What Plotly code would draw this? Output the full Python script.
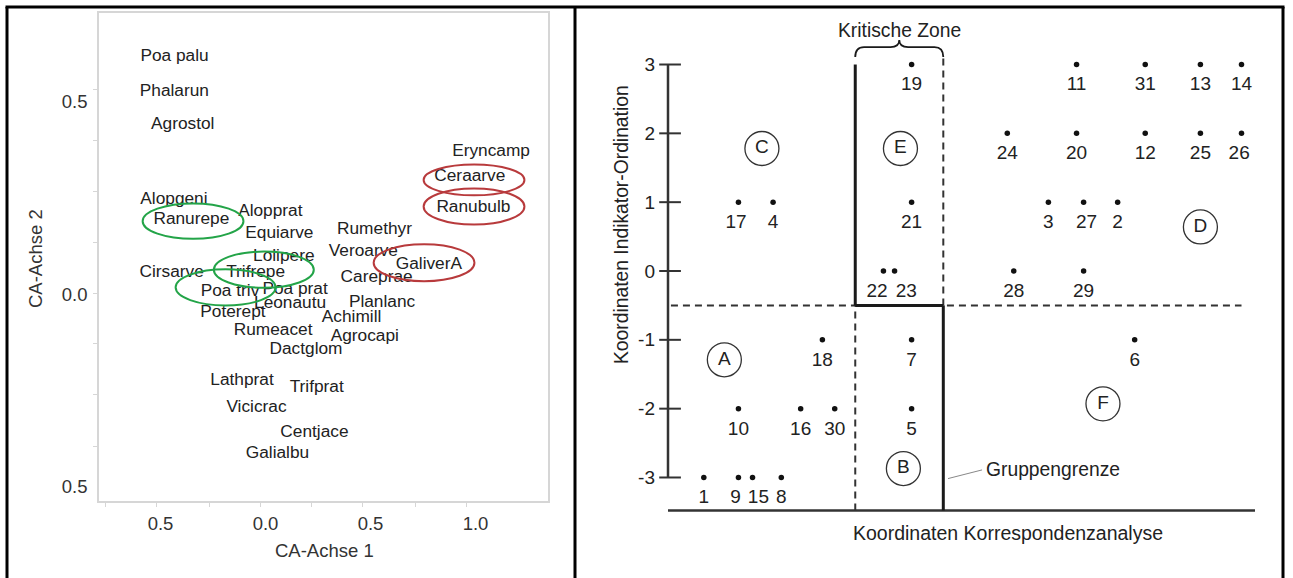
import plotly.graph_objects as go

W, H = 1293, 578
FONT = "Liberation Sans, Arial, sans-serif"

# ---------------- left panel: CA species scores ----------------
species = ["Poa palu", "Phalarun", "Agrostol", "Eryncamp", "Ceraarve", "Ranubulb",
           "Alopgeni", "Ranurepe", "Alopprat", "Equiarve", "Rumethyr", "Lolipere",
           "Veroarve", "GaliverA", "Cirsarve", "Trifrepe", "Careprae", "Poa triv",
           "Poa prat", "Leonautu", "Planlanc", "Poterept", "Achimill", "Rumeacet",
           "Agrocapi", "Dactglom", "Lathprat", "Trifprat", "Vicicrac", "Centjace",
           "Galialbu"]
ca_axis1 = [-0.433, -0.434, -0.394, 1.074, 0.973, 0.990, -0.436, -0.353, 0.023, 0.066,
            0.519, 0.087, 0.466, 0.778, -0.447, -0.047, 0.529, -0.169, 0.141, 0.117,
            0.555, -0.155, 0.410, 0.036, 0.473, 0.193, -0.112, 0.244, -0.043, 0.233,
            0.057]
ca_axis2 = [0.618, 0.526, 0.440, 0.370, 0.305, 0.226, 0.245, 0.194, 0.215, 0.157,
            0.167, 0.097, 0.111, 0.076, 0.057, 0.057, 0.044, 0.007, 0.011, -0.024,
            -0.022, -0.049, -0.060, -0.095, -0.110, -0.143, -0.225, -0.243, -0.295,
            -0.360, -0.414]

# highlighted species (ellipses): centre and half axes in CA units
ring_species = ["Ranurepe", "Trifrepe", "Poa triv", "Ceraarve", "Ranubulb", "GaliverA"]
ring_cx = [-0.345, -0.008, -0.190, 0.993, 0.993, 0.755]
ring_cy = [0.190, 0.064, 0.018, 0.297, 0.228, 0.082]
ring_rx = [0.240, 0.238, 0.238, 0.240, 0.240, 0.240]
ring_ry = [0.046, 0.047, 0.047, 0.040, 0.047, 0.048]
ring_color = ["#23a448", "#23a448", "#23a448", "#b83a3c", "#b83a3c", "#b83a3c"]

ca_tick_vals = [-0.5, 0.0, 0.5, 1.0]
ca_tick_text = ["0.5", "0.0", "0.5", "1.0"]
ca2_tick_vals = [0.5, 0.0, -0.5]
ca2_tick_text = ["0.5", "0.0", "0.5"]
ca_minor = [-0.760, -0.517, -0.269, -0.026, 0.221, 0.464, 0.712, 0.955]
ca2_minor = [0.532, 0.399, 0.268, 0.135, 0.002, -0.129, -0.261, -0.395]

# ---------------- right panel: relevés in two ordinations ----------------
plot_ids = list(range(1, 32))
corr_coord = [0.61, 7.66, 6.48, 1.79, 4.15, 7.95, 4.15, 1.93, 1.20, 1.20,
              6.96, 8.13, 9.07, 9.77, 1.44, 2.26, 1.20, 2.63, 4.15, 6.96,
              4.15, 3.67, 3.86, 5.78, 9.07, 9.77, 7.08, 5.89, 7.08, 2.84, 8.13]
indic_coord = [-3, 1, 1, 1, -2, -1, -1, -3, -3, -2,
               3, 2, 3, 3, -3, -2, 1, -1, 3, 2,
               1, 0, 0, 2, 2, 2, 1, 0, 0, -2, 3]
# sideways nudge of crowded number labels
label_nudge = {9: -0.05, 15: 0.10, 17: -0.04, 22: -0.11, 23: 0.20, 27: 0.05, 26: -0.04}

groups = ["A", "B", "C", "D", "E", "F"]
group_x = [0.96, 4.01, 1.60, 9.07, 3.96, 7.41]
group_y = [-1.29, -2.87, 1.78, 0.64, 1.78, -1.93]

indic_ticks = [3, 2, 1, 0, -1, -2, -3]
indic_tick_text = ["3", "2", "1", "0", "-1", "-2", "-3"]

zone_left, zone_right = 3.19, 4.69   # critical zone edges
split_y = -0.5                       # indicator split
axis_floor = -3.48

# pixel layout
L_X0, L_X1, L_Y0, L_Y1 = 99, 548, 13, 501
L_ORG_X, L_UNIT_X, L_ORG_Y, L_UNIT_Y = 265.5, 210.0, 294.3, 385.0
R_X0, R_X1, R_Y0, R_Y1 = 656, 1270, 20, 560
R_ORG_X, R_UNIT_X, R_ORG_Y, R_UNIT_Y = 668.0, 58.7, 271.0, 68.83


def px(x):
    return x / W


def py(y):
    return 1 - y / H


fig = go.Figure()

# species names
fig.add_trace(go.Scatter(
    x=ca_axis1, y=ca_axis2, text=species, mode="text",
    textposition="middle center",
    textfont=dict(family=FONT, size=17.3, color="#222222"),
    xaxis="x", yaxis="y", hoverinfo="text", cliponaxis=False))

# relevé dots
fig.add_trace(go.Scatter(
    x=corr_coord, y=indic_coord, mode="markers",
    marker=dict(size=5.5, color="#111111"),
    xaxis="x2", yaxis="y2", cliponaxis=False))

# relevé numbers below the dots
fig.add_trace(go.Scatter(
    x=[c + label_nudge.get(i, 0) for c, i in zip(corr_coord, plot_ids)],
    y=indic_coord, text=[str(i) for i in plot_ids],
    mode="markers+text", textposition="bottom center",
    marker=dict(size=17, color="rgba(0,0,0,0)"),
    textfont=dict(family=FONT, size=19, color="#222222"),
    xaxis="x2", yaxis="y2", cliponaxis=False, hoverinfo="skip"))

# group letters in circles
fig.add_trace(go.Scatter(
    x=group_x, y=group_y, text=groups, mode="markers+text",
    textposition="middle center",
    marker=dict(size=34, color="rgba(0,0,0,0)",
                line=dict(color="#333333", width=1.3)),
    textfont=dict(family=FONT, size=19, color="#222222"),
    xaxis="x2", yaxis="y2", cliponaxis=False))

shapes = []

# ellipses around selected species
for cx, cy, rx, ry, col in zip(ring_cx, ring_cy, ring_rx, ring_ry, ring_color):
    shapes.append(dict(type="circle", xref="x", yref="y",
                       x0=cx - rx, x1=cx + rx, y0=cy - ry, y1=cy + ry,
                       line=dict(color=col, width=2)))

# right panel: axes
blk = "#1a1a1a"
shapes.append(dict(type="line", xref="x2", yref="y2", x0=0, x1=0, y0=-3, y1=3,
                   line=dict(color="#333333", width=2.5)))
for t in indic_ticks:
    shapes.append(dict(type="line", xref="x2", yref="y2", x0=-0.15, x1=0.22,
                       y0=t, y1=t, line=dict(color="#333333", width=2)))
shapes.append(dict(type="line", xref="x2", yref="y2", x0=0, x1=10.0,
                   y0=axis_floor, y1=axis_floor, line=dict(color="#333333", width=2.5)))

# dashed split lines
dash = dict(color="#333333", width=2, dash="7px,5px")
shapes.append(dict(type="line", xref="x2", yref="y2", x0=0.05, x1=9.77,
                   y0=split_y, y1=split_y, line=dash))
shapes.append(dict(type="line", xref="x2", yref="y2", x0=zone_left, x1=zone_left,
                   y0=axis_floor, y1=split_y, line=dash))
shapes.append(dict(type="line", xref="x2", yref="y2", x0=zone_right, x1=zone_right,
                   y0=split_y, y1=3.12, line=dash))

# group boundary (solid)
solid = dict(color=blk, width=3)
shapes.append(dict(type="line", xref="x2", yref="y2", x0=zone_left, x1=zone_left,
                   y0=split_y, y1=3, line=solid))
shapes.append(dict(type="line", xref="x2", yref="y2", x0=zone_left, x1=zone_right,
                   y0=split_y, y1=split_y, line=solid))
shapes.append(dict(type="line", xref="x2", yref="y2", x0=zone_right, x1=zone_right,
                   y0=axis_floor, y1=split_y, line=solid))

# leader line to "Gruppengrenze"
shapes.append(dict(type="line", xref="x2", yref="y2", x0=4.77, x1=5.35,
                   y0=-3.016, y1=-2.89, line=dict(color="#888888", width=1)))

# curly brace over the critical zone
ye, ym, yp = 3.109, 3.254, 3.356
xm = (zone_left + zone_right) / 2
r = 0.15
brace = (f"M {zone_left},{ye} Q {zone_left},{ym} {zone_left + r},{ym} "
         f"L {xm - r},{ym} Q {xm},{ym} {xm},{yp} "
         f"Q {xm},{ym} {xm + r},{ym} L {zone_right - r},{ym} "
         f"Q {zone_right},{ym} {zone_right},{ye}")
shapes.append(dict(type="path", xref="x2", yref="y2", path=brace,
                   line=dict(color=blk, width=1.8)))

# outer frame of the two panels
frame = dict(color="black", width=3)
shapes.append(dict(type="line", xref="paper", yref="paper", x0=px(7), x1=px(7),
                   y0=py(578), y1=py(7), line=frame))
shapes.append(dict(type="line", xref="paper", yref="paper", x0=px(5.5), x1=px(1284.5),
                   y0=py(7), y1=py(7), line=frame))
shapes.append(dict(type="line", xref="paper", yref="paper", x0=px(575), x1=px(575),
                   y0=py(578), y1=py(7), line=frame))
shapes.append(dict(type="line", xref="paper", yref="paper", x0=px(1283), x1=px(1283),
                   y0=py(578), y1=py(7), line=frame))


def note(text, x, y, xref="paper", yref="paper", size=18.5, color="#222222",
         angle=0, xanchor="center"):
    return dict(text=text, x=x, y=y, xref=xref, yref=yref, textangle=angle,
                xanchor=xanchor, yanchor="middle", showarrow=False,
                font=dict(family=FONT, size=size, color=color))


annotations = [
    note("CA-Achse 2", px(35), py(259), size=18.5, color="#333333", angle=-90),
    note("CA-Achse 1", px(324), py(550), size=18.5, color="#333333"),
    note("Kritische Zone", xm, 3.50, "x2", "y2", size=19.3),
    note("Gruppengrenze", 5.39, -2.877, "x2", "y2", size=19.3, xanchor="left"),
    note("Koordinaten Korrespondenzanalyse", 5.79, -3.806, "x2", "y2", size=19.5),
    note("Koordinaten Indikator-Ordination", px(621), py(225), size=19.3, angle=-90),
]

light = "#d6d6d6"
fig.update_layout(
    width=W, height=H, margin=dict(l=0, r=0, t=0, b=0),
    paper_bgcolor="white", plot_bgcolor="white", showlegend=False,
    shapes=shapes, annotations=annotations,
    xaxis=dict(domain=[px(L_X0), px(L_X1)],
               range=[(L_X0 - L_ORG_X) / L_UNIT_X, (L_X1 - L_ORG_X) / L_UNIT_X],
               tickvals=ca_tick_vals, ticktext=ca_tick_text,
               ticks="outside", ticklen=4, tickcolor="rgba(0,0,0,0)",
               ticklabelstandoff=1,
               minor=dict(tickvals=ca_minor, ticks="outside", ticklen=4,
                          tickcolor=light, tickwidth=1),
               showline=True, mirror=True, linecolor=light, linewidth=1.5,
               showgrid=False, zeroline=False,
               tickfont=dict(family=FONT, size=18.5, color="#333333"),
               anchor="y"),
    yaxis=dict(domain=[py(L_Y1), py(L_Y0)],
               range=[(L_ORG_Y - L_Y1) / L_UNIT_Y, (L_ORG_Y - L_Y0) / L_UNIT_Y],
               tickvals=ca2_tick_vals, ticktext=ca2_tick_text,
               ticks="outside", ticklen=4, tickcolor="rgba(0,0,0,0)",
               ticklabelstandoff=2,
               minor=dict(tickvals=ca2_minor, ticks="outside", ticklen=4,
                          tickcolor=light, tickwidth=1),
               showline=True, mirror=True, linecolor=light, linewidth=1.5,
               showgrid=False, zeroline=False,
               tickfont=dict(family=FONT, size=18.5, color="#333333"),
               anchor="x"),
    xaxis2=dict(domain=[px(R_X0), px(R_X1)],
                range=[(R_X0 - R_ORG_X) / R_UNIT_X, (R_X1 - R_ORG_X) / R_UNIT_X],
                showticklabels=False, ticks="", showline=False, showgrid=False,
                zeroline=False, anchor="y2"),
    yaxis2=dict(domain=[py(R_Y1), py(R_Y0)],
                range=[(R_ORG_Y - R_Y1) / R_UNIT_Y, (R_ORG_Y - R_Y0) / R_UNIT_Y],
                tickvals=indic_ticks, ticktext=indic_tick_text, ticks="",
                showline=False, showgrid=False, zeroline=False,
                tickfont=dict(family=FONT, size=19, color="#222222"),
                anchor="x2"),
)

fig.write_html("out.html")
